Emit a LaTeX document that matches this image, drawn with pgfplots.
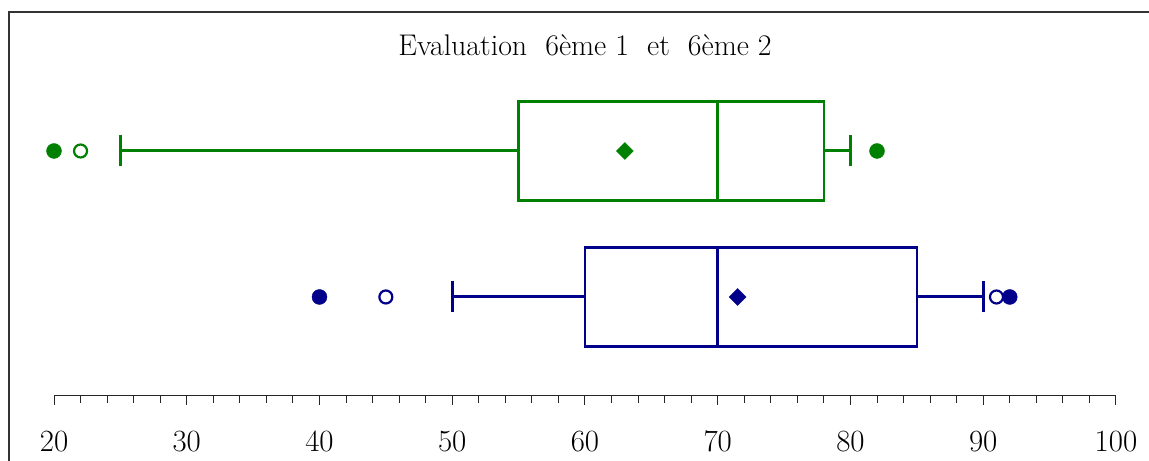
\documentclass[border=0pt]{standalone}
\usepackage{pgfplots}
\pgfplotsset{compat=1.18}
\usepgfplotslibrary{statistics}
\definecolor{classA}{RGB}{0,128,0}
\definecolor{classB}{RGB}{0,0,139}

\begin{document}
\begin{tikzpicture}[x=1bp,y=1bp]
\useasboundingbox (0,0) rectangle (1149,461);
% outer frame (left and top edges)
\draw[line width=1.3bp, black!80] (9,-5) -- (9,449) -- (1160,449);
\begin{axis}[
  at={(54bp,65bp)}, anchor=south west,
  scale only axis, width=1062bp, height=384bp,
  xmin=20, xmax=100, ymin=0, ymax=384,
  axis x line*=bottom, axis y line=none,
  axis line style={line width=1bp, black!85},
  xtick={20,30,...,100},
  minor xtick={22,24,...,98},
  tick align=outside,
  major tick length=9bp, minor tick length=7bp,
  tick style={line width=1bp, black!85},
  /pgf/number format/assume math mode=true,
  xticklabel style={font=\fontsize{31}{31}\selectfont, anchor=base, yshift=-47bp},
  boxplot/every box/.style={line width=2.5bp},
  boxplot/every whisker/.style={line width=3bp},
  boxplot/every median/.style={line width=2.8bp},
  clip=false,
]
% 6eme 1 (top)
\addplot[classA, line width=2.5bp, mark=none,
  boxplot prepared={lower whisker=25, lower quartile=55, median=70,
    upper quartile=78, upper whisker=80, draw position=245,
    box extend=99, whisker extend=31, draw direction=x}]
  coordinates {};
\addplot[classA, only marks, mark=*, mark size=7.5bp] coordinates {(20,245) (82,245)};
\addplot[classA, only marks, mark=o, mark size=6.5bp, line width=2.2bp] coordinates {(22,245)};
\addplot[classA, only marks, mark=square*, mark size=6bp, mark options={rotate=45}] coordinates {(63,245)};
% 6eme 2 (bottom)
\addplot[classB, line width=2.5bp, mark=none,
  boxplot prepared={lower whisker=50, lower quartile=60, median=70,
    upper quartile=85, upper whisker=90, draw position=99,
    box extend=99, whisker extend=31, draw direction=x}]
  coordinates {};
\addplot[classB, only marks, mark=*, mark size=7.5bp] coordinates {(40,99) (92,99)};
\addplot[classB, only marks, mark=o, mark size=6.5bp, line width=2.2bp] coordinates {(45,99) (91,99)};
\addplot[classB, only marks, mark=square*, mark size=6bp, mark options={rotate=45}] coordinates {(71.5,99)};
\end{axis}
\node[anchor=base, font=\fontsize{30}{30}\selectfont] at (585,405) {Evaluation\ \ 6ème 1\ \ et\ \ 6ème 2};
\end{tikzpicture}
\end{document}
